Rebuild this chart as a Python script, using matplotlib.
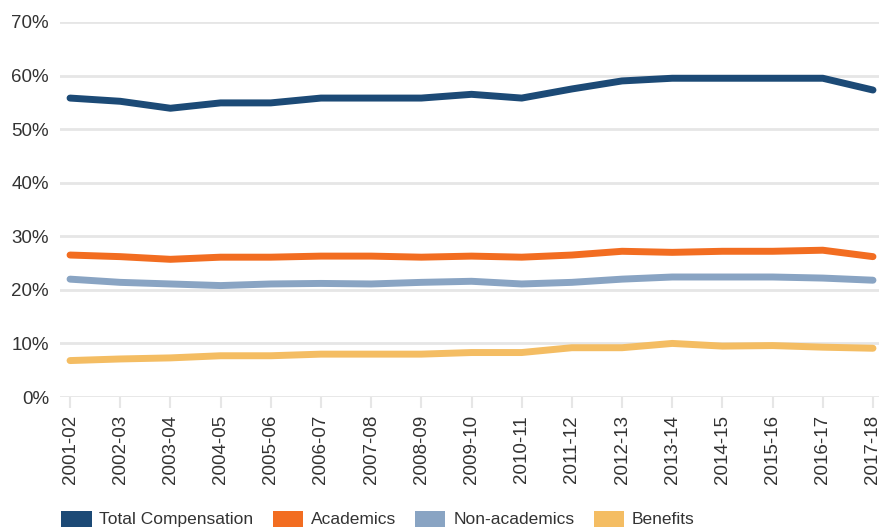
import matplotlib
matplotlib.use("Agg")
import matplotlib.pyplot as plt
from matplotlib.patches import Patch
import numpy as np

years = ["2001-02", "2002-03", "2003-04", "2004-05", "2005-06", "2006-07",
         "2007-08", "2008-09", "2009-10", "2010-11", "2011-12", "2012-13",
         "2013-14", "2014-15", "2015-16", "2016-17", "2017-18"]

total_comp = [55.8, 55.2, 53.9, 54.9, 54.9, 55.8, 55.8, 55.8, 56.5, 55.8,
              57.5, 59.0, 59.5, 59.5, 59.5, 59.5, 57.3]
academics = [26.5, 26.2, 25.7, 26.1, 26.1, 26.3, 26.3, 26.1, 26.3, 26.1,
             26.5, 27.2, 27.0, 27.2, 27.2, 27.4, 26.2]
non_academics = [22.0, 21.4, 21.1, 20.8, 21.1, 21.2, 21.1, 21.4, 21.6, 21.1,
                 21.4, 22.0, 22.4, 22.4, 22.4, 22.2, 21.8]
benefits = [6.8, 7.1, 7.3, 7.7, 7.7, 8.0, 8.0, 8.0, 8.3, 8.3,
            9.2, 9.2, 10.0, 9.5, 9.6, 9.3, 9.1]

series = [("Total Compensation", total_comp, "#1c4a76"),
          ("Academics", academics, "#f26d21"),
          ("Non-academics", non_academics, "#89a4c3"),
          ("Benefits", benefits, "#f4bd63")]

fig = plt.figure(figsize=(8.84, 5.31), dpi=100)
ax = fig.add_axes([60 / 884, 1 - 397 / 531, 819 / 884, 375 / 531])

x = np.arange(len(years))
for name, vals, col in series:
    ax.plot(x, vals, color=col, lw=5, solid_capstyle="round",
            solid_joinstyle="round", zorder=3)

ax.set_ylim(0, 70)
ax.set_xlim(-0.2, len(years) - 1 + 0.12)
ax.set_yticks(range(0, 71, 10))
ax.set_yticklabels([f"{v}%" for v in range(0, 71, 10)], fontsize=13.5,
                   color="#333333", family="Liberation Sans")
ax.grid(axis="y", color="#e6e6e6", lw=2, zorder=0)
ax.set_xticks(x)
ax.set_xticklabels(years, rotation=90, fontsize=13.5, color="#333333",
                   family="Liberation Sans")
ax.tick_params(axis="y", length=0, pad=8)
ax.tick_params(axis="x", length=8, width=1.5, color="#e6e6e6", pad=5)
for s in ax.spines.values():
    s.set_visible(False)

handles = [Patch(facecolor=c, edgecolor="none", label=n) for n, _, c in series]
leg = fig.legend(handles=handles, loc="center left",
                 bbox_to_anchor=(49 / 884, 1 - 519 / 531), ncol=4,
                 frameon=False, handlelength=1.75, handleheight=1.05,
                 handletextpad=0.45, columnspacing=1.1, borderpad=0.2,
                 prop={"family": "Liberation Sans", "size": 12.5})
for t in leg.get_texts():
    t.set_color("#333333")

fig.savefig("out.png", dpi=100)
